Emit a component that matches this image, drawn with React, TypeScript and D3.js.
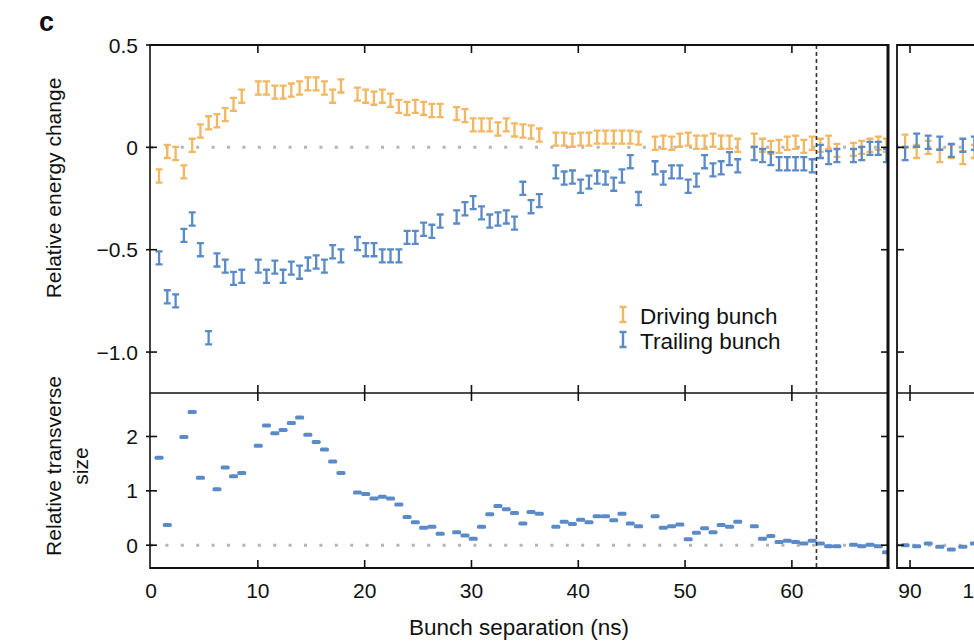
import React, { useEffect, useRef } from 'react';
import * as d3 from 'd3';

// bunch separation (ns), left segment of the broken axis
const sepLeft = [
  0.75, 1.52, 2.30, 3.07, 3.85, 4.62, 5.39, 6.17, 6.94, 7.72, 8.49,
  10.04, 10.81, 11.59, 12.36, 13.13, 13.91, 14.68, 15.46, 16.23, 17.00, 17.78,
  19.33, 20.10, 20.87, 21.65, 22.42, 23.20, 23.97, 24.74, 25.52, 26.29, 27.07,
  28.61, 29.39, 30.16, 30.94, 31.71, 32.48, 33.26, 34.03, 34.81, 35.58, 36.35,
  37.90, 38.68, 39.45, 40.22, 41.00, 41.77, 42.55, 43.32, 44.09, 44.87, 45.64,
  47.19, 47.96, 48.74, 49.51, 50.29, 51.06, 51.83, 52.61, 53.38, 54.16, 54.93,
  56.48, 57.25, 58.03, 58.80, 59.57, 60.35, 61.12, 61.90, 62.67, 63.44, 64.22,
  65.77, 66.54, 67.31, 68.09, 68.86,
];

// relative energy change, driving bunch
const drivingLeft = [
  -0.14, -0.02, -0.03, -0.12, 0.01, 0.08, 0.12, 0.13, 0.16, 0.21, 0.25,
  0.29, 0.29, 0.27, 0.27, 0.28, 0.29, 0.31, 0.31, 0.29, 0.25, 0.30,
  0.26, 0.25, 0.24, 0.25, 0.23, 0.20, 0.19, 0.20, 0.19, 0.18, 0.18,
  0.165, 0.155, 0.11, 0.11, 0.11, 0.09, 0.11, 0.085, 0.08, 0.075, 0.06,
  0.04, 0.04, 0.035, 0.04, 0.04, 0.05, 0.05, 0.05, 0.05, 0.05, 0.045,
  0.02, 0.025, 0.02, 0.035, 0.04, 0.025, 0.025, 0.035, 0.025, 0.025, 0.01,
  0.035, 0.01, 0.0, 0.005, 0.02, 0.025, 0.005, 0.02, 0.01, 0.025, -0.015,
  -0.01, 0.0, 0.01, 0.02, 0.01,
];

// relative energy change, trailing bunch
const trailingLeft = [
  -0.54, -0.73, -0.75, -0.43, -0.35, -0.50, -0.93, -0.55, -0.58, -0.64, -0.63,
  -0.58, -0.63, -0.585, -0.63, -0.59, -0.61, -0.57, -0.56, -0.58, -0.51, -0.53,
  -0.47, -0.50, -0.50, -0.53, -0.53, -0.53, -0.44, -0.44, -0.40, -0.41, -0.36,
  -0.34, -0.30, -0.27, -0.32, -0.36, -0.35, -0.34, -0.37, -0.20, -0.29, -0.26,
  -0.12, -0.15, -0.145, -0.19, -0.17, -0.145, -0.15, -0.18, -0.14, -0.07, -0.25,
  -0.10, -0.15, -0.12, -0.12, -0.19, -0.16, -0.07, -0.11, -0.10, -0.055, -0.09,
  -0.03, -0.04, -0.055, -0.08, -0.08, -0.08, -0.08, -0.09, -0.02, -0.05, -0.04,
  -0.04, -0.03, -0.005, -0.005, -0.04,
];

// relative transverse size, trailing bunch (null = no point)
const sizeLeft = [
  1.61, 0.37, null, 1.99, 2.45, 1.24, null, 1.03, 1.43, 1.27, 1.33,
  1.83, 2.20, 2.06, 2.12, 2.25, 2.35, 2.03, 1.90, 1.76, 1.54, 1.33,
  0.97, 0.94, 0.86, 0.89, 0.86, 0.75, 0.52, 0.42, 0.32, 0.34, 0.21,
  0.24, 0.18, 0.12, 0.34, 0.57, 0.72, 0.66, 0.59, 0.40, 0.61, 0.58,
  0.34, 0.43, 0.39, 0.47, 0.42, 0.53, 0.53, 0.46, 0.58, 0.40, 0.35,
  0.53, 0.32, 0.35, 0.38, 0.11, 0.23, 0.31, 0.24, 0.37, 0.34, 0.43,
  0.35, 0.12, 0.17, 0.06, 0.08, 0.06, 0.03, 0.08, 0.03, -0.02, -0.02,
  0.01, -0.02, 0.01, -0.02, -0.13,
];

// right segment of the broken axis
const sepRight = [89.3, 90.95, 92.6, 94.25, 95.9, 97.55, 99.2];
const drivingRight = [0.03, -0.02, 0.0, -0.04, -0.02, -0.05, -0.02];
const trailingRight = [-0.03, 0.035, 0.025, 0.02, -0.015, 0.01, 0.02];
const sizeRight = [0.0, -0.02, 0.03, -0.03, -0.08, -0.03, 0.03];

const energyTicks = [0.5, 0, -0.5, -1.0];
const sizeTicks = [0, 1, 2];
const sepTicksLeft = [0, 10, 20, 30, 40, 50, 60];
const sepTicksRight = [90, 100];
const markerSep = 62.3;
const energyErr = 0.032;

const ORANGE = '#f3b762';
const BLUE = '#5b8bc7';
const FONT = '"Liberation Sans", Arial, Helvetica, sans-serif';

const fmt = (v: number) => {
  const s = Math.abs(v) < 1e-9 ? '0' : Math.abs(v).toFixed(1);
  return v < 0 ? '\u2212' + s : s;
};

export default function App() {
  const ref = useRef<SVGSVGElement>(null);

  useEffect(() => {
    const svg = d3.select(ref.current);
    svg.selectAll('*').remove();

    const left = 150, midL = 888, midR = 897, right = 974;
    const top = 45, split = 393, bottom = 568;

    const xL = d3.scaleLinear().domain([-0.1, 69.0]).range([left, midL]);
    const xR = d3.scaleLinear().domain([88.14, 100]).range([midR, 980]);
    const yE = d3.scaleLinear().domain([-1.2, 0.5]).range([split, top]);
    const yS = d3.scaleLinear().domain([-0.42, 2.8]).range([bottom, split]);

    const g = svg.append('g');

    // zero reference lines
    [[left, midL], [midR, right]].forEach(([a, b]) => {
      [yE(0), yS(0)].forEach(y => {
        g.append('line')
          .attr('x1', a).attr('x2', b).attr('y1', y).attr('y2', y)
          .attr('stroke', '#b5b5b5').attr('stroke-width', 3)
          .attr('stroke-dasharray', '3 12.4');
      });
    });

    // error bar glyph
    const bar = (x: number, y1: number, y2: number) =>
      `M${x - 3.5},${y1}H${x + 3.5}M${x},${y1}V${y2}M${x - 3.5},${y2}H${x + 3.5}`;

    const drawEnergy = (xs: number[], vs: number[], sx: any, color: string) => {
      g.append('g').selectAll('path')
        .data(xs.map((x, i) => ({ x, v: vs[i] })))
        .enter().append('path')
        .attr('d', d => bar(sx(d.x), yE(d.v + energyErr), yE(d.v - energyErr)))
        .attr('fill', 'none')
        .attr('stroke', color)
        .attr('stroke-width', 2.3);
    };

    const drawSize = (xs: number[], vs: (number | null)[], sx: any) => {
      g.append('g').selectAll('rect')
        .data(xs.map((x, i) => ({ x, v: vs[i] })).filter(d => d.v !== null))
        .enter().append('rect')
        .attr('x', d => sx(d.x) - 4.5)
        .attr('y', d => yS(d.v as number) - 2)
        .attr('width', 9).attr('height', 4).attr('rx', 1.5)
        .attr('fill', BLUE);
    };

    drawEnergy(sepLeft, drivingLeft, xL, ORANGE);
    drawEnergy(sepLeft, trailingLeft, xL, BLUE);
    drawSize(sepLeft, sizeLeft, xL);
    drawEnergy(sepRight, drivingRight, xR, ORANGE);
    drawEnergy(sepRight, trailingRight, xR, BLUE);
    drawSize(sepRight, sizeRight, xR);

    // white gap between the two segments
    g.append('rect').attr('x', midL + 1).attr('y', 0).attr('width', midR - midL - 2)
      .attr('height', 641).attr('fill', '#fff');

    // dashed marker
    g.append('line')
      .attr('x1', xL(markerSep)).attr('x2', xL(markerSep))
      .attr('y1', top).attr('y2', bottom)
      .attr('stroke', '#333').attr('stroke-width', 1.6)
      .attr('stroke-dasharray', '4 3');

    const line = (x1: number, y1: number, x2: number, y2: number, w = 1.6) =>
      g.append('line').attr('x1', x1).attr('y1', y1).attr('x2', x2).attr('y2', y2)
        .attr('stroke', '#111').attr('stroke-width', w);

    // frames
    line(left, top - 1, left, bottom + 1, 1.6);
    line(left, top, midL, top, 2);
    line(left, split, midL, split, 1.6);
    line(left, bottom, midL + 1.5, bottom, 2);
    line(midL, top - 1, midL, bottom + 1, 3);
    line(midR, top - 1, midR, bottom + 1, 1.8);
    line(midR, top, right, top, 2);
    line(midR, split, right, split, 1.6);
    line(midR, bottom, right, bottom, 2);

    // y ticks
    energyTicks.forEach(t => {
      line(left - 4, yE(t), left + 7, yE(t));
      if (t < 0.5) {
        line(midL - 7, yE(t), midL, yE(t));
        line(midR, yE(t), midR + 7, yE(t));
      }
    });
    sizeTicks.forEach(t => {
      line(left - 4, yS(t), left + 7, yS(t));
      line(midL - 7, yS(t), midL, yS(t));
      line(midR, yS(t), midR + 7, yS(t));
    });

    // x ticks
    const xTicks = [
      ...sepTicksLeft.filter(t => t > 0).map(t => xL(t)),
      ...sepTicksRight.map(t => xR(t)),
    ];
    xTicks.forEach(x => {
      line(x, top, x, top + 8);
      line(x, split - 8, x, split + 8);
      line(x, bottom - 8, x, bottom);
    });

    const text = (x: number, y: number, s: string, anchor = 'middle', size = 21) =>
      g.append('text').attr('x', x).attr('y', y).text(s)
        .attr('text-anchor', anchor)
        .attr('font-family', FONT).attr('font-size', size).attr('fill', '#111');

    energyTicks.forEach(t => text(138, yE(t) + 7.5, fmt(t), 'end'));
    sizeTicks.forEach(t => text(138, yS(t) + 7.5, String(t), 'end'));
    sepTicksLeft.forEach(t => text(xL(t), 598, String(t)));
    // the right-segment labels run off the right edge, as in the figure
    sepTicksRight.forEach(t => text(xR(t), 598, String(t)));

    text(519, 635, 'Bunch separation (ns)', 'middle', 22.5);

    text(0, 0, 'Relative energy change')
      .attr('transform', 'translate(61,188) rotate(-90)');
    text(0, 0, 'Relative transverse')
      .attr('transform', 'translate(61,466) rotate(-90)');
    text(0, 0, 'size')
      .attr('transform', 'translate(88,466) rotate(-90)');

    text(39, 31, 'c', 'start', 27).attr('font-weight', 'bold');

    // legend
    const lx = 623;
    g.append('path').attr('d', bar(lx, 307, 322)).attr('fill', 'none')
      .attr('stroke', ORANGE).attr('stroke-width', 2.4);
    g.append('path').attr('d', bar(lx, 332, 347)).attr('fill', 'none')
      .attr('stroke', BLUE).attr('stroke-width', 2.4);
    text(640, 324, 'Driving bunch', 'start', 22.5);
    text(640, 349, 'Trailing bunch', 'start', 22.5);
  }, []);

  return (
    <svg
      ref={ref}
      width={974}
      height={641}
      style={{ position: 'absolute', left: 0, top: 0, background: '#fff' }}
    />
  );
}
